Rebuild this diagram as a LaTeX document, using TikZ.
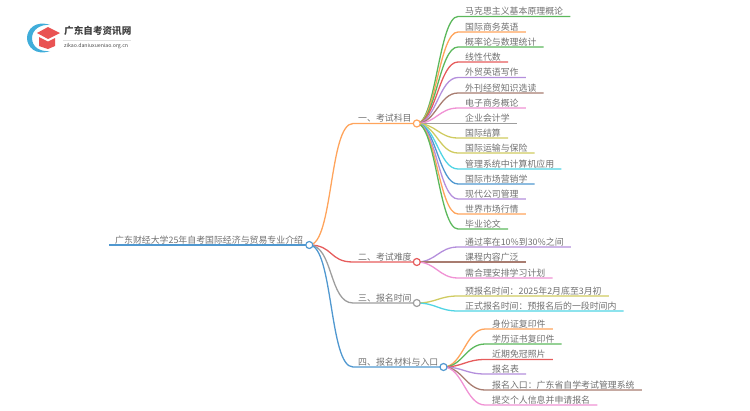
\documentclass[tikz,border=0pt]{standalone}
\usepackage{fontspec}
\setmainfont{Noto Sans CJK SC}
\usepackage{tikz}

\definecolor{cGreen}{HTML}{5CB85C}
\definecolor{cOrange}{HTML}{FFA45C}
\definecolor{cRed}{HTML}{E65C5C}
\definecolor{cPurple}{HTML}{B48FDC}
\definecolor{cBrown}{HTML}{A87C70}
\definecolor{cPink}{HTML}{F092D4}
\definecolor{cGray}{HTML}{9E9E9E}
\definecolor{cOlive}{HTML}{CFCB60}
\definecolor{cCyan}{HTML}{50D4E4}
\definecolor{cBlue}{HTML}{5098D0}
\definecolor{cText}{HTML}{707070}

\tikzset{
    topic/.style={anchor=south west, inner xsep=7pt, inner ysep=1pt, text=cText, font=\fontsize{8.9}{10}\selectfont},
    head/.style={topic, inner xsep=5pt},
    dot/.style={circle, draw, fill=white, line width=1.2pt, minimum size=7pt, inner sep=0pt},
    link/.style={line width=1.3pt, to path={.. controls +(#1,0) and +(-#1,0) .. (\tikztotarget)}},
    link/.default=19,
}

\begin{document}
\begin{tikzpicture}[x=1pt, y=-1pt]
    \useasboundingbox (0,0) rectangle (750,410);
    % logo
    \fill[cBlue!80!cyan] (50,25) .. controls (36,20) and (27,29) .. (27,38) .. controls (27,47) and (36,56) .. (50,51)
        .. controls (40,52) and (32,47) .. (32,38) .. controls (32,30) and (40,24) .. (50,25) -- cycle;
    \fill[cRed!90!red] (48,27) -- (60,33) -- (48,39) -- (37,33) -- cycle;
    \fill[cRed!90!red] (39,37) -- (48,41.5) -- (55,38) -- (55,46) -- (48,49) -- (39,46) -- cycle;
    \node[anchor=west, inner sep=0pt, text=black!75, font=\fontsize{9.6}{10}\bfseries\selectfont] (logotitle) at (64,31) {广东自考资讯网};
    \node[anchor=west, inner sep=0pt, text=black!70, font=\fontsize{5.2}{6}\selectfont] (logourl) at (64,46.5) {zikao.daniuxueniao.org.cn};
    \draw[black!12, line width=0.5pt] (63,40) -- (131,40);

    % main nodes
    \node[head, inner xsep=6pt] (root) at (109,245) {广东财经大学25年自考国际经济与贸易专业介绍};
    \node[head] (one) at (353,123.5) {一、考试科目};
    \node[head] (two) at (353,262) {二、考试难度};
    \node[head] (three) at (353,303) {三、报名时间};
    \node[head] (four) at (353,367) {四、报名材料与入口};

    % first group
    \node[topic] (a1) at (458,16.5) {马克思主义基本原理概论};
    \node[topic] (a2) at (458,32) {国际商务英语};
    \node[topic] (a3) at (458,47) {概率论与数理统计};
    \node[topic] (a4) at (458,62) {线性代数};
    \node[topic] (a5) at (458,77.5) {外贸英语写作};
    \node[topic] (a6) at (458,93) {外刊经贸知识选读};
    \node[topic] (a7) at (458,108) {电子商务概论};
    \node[topic] (a8) at (458,123.5) {企业会计学};
    \node[topic] (a9) at (458,138) {国际结算};
    \node[topic] (a10) at (458,153) {国际运输与保险};
    \node[topic] (a11) at (458,169) {管理系统中计算机应用};
    \node[topic] (a12) at (458,184) {国际市场营销学};
    \node[topic] (a13) at (458,199) {现代公司管理};
    \node[topic] (a14) at (458,214) {世界市场行情};
    \node[topic] (a15) at (458,229) {毕业论文};

    % second group
    \node[topic] (b1) at (458,247) {通过率在10\%到30\%之间};
    \node[topic] (b2) at (458,262) {课程内容广泛};
    \node[topic] (b3) at (458,278) {需合理安排学习计划};

    % third group
    \node[topic] (c1) at (458,296) {预报名时间：2025年2月底至3月初};
    \node[topic] (c2) at (458,311) {正式报名时间：预报名后的一段时间内};

    % fourth group
    \node[topic] (d1) at (485,329) {身份证复印件};
    \node[topic] (d2) at (485,344) {学历证书复印件};
    \node[topic] (d3) at (485,359.5) {近期免冠照片};
    \node[topic] (d4) at (485,374) {报名表};
    \node[topic] (d5) at (485,390) {报名入口：广东省自学考试管理系统};
    \node[topic] (d6) at (485,405) {提交个人信息并申请报名};

    % connectors
    \draw[cBlue, line width=1.5pt] (root.south west) -- (root.south east);
    \draw[link=24, cOrange] (root.south east) to (one.south west) -- (one.south east);
    \draw[link=24, cRed] (root.south east) to (two.south west) -- (two.south east);
    \draw[link=24, cGray] (root.south east) to (three.south west) -- (three.south east);
    \draw[link=24, cBlue] (root.south east) to (four.south west) -- (four.south east);

    \draw[link, cGreen] (one.south east) to (a1.south west) -- (a1.south east);
    \draw[link, cOrange] (one.south east) to (a2.south west) -- (a2.south east);
    \draw[link, cGreen] (one.south east) to (a3.south west) -- (a3.south east);
    \draw[link, cRed] (one.south east) to (a4.south west) -- (a4.south east);
    \draw[link, cPurple] (one.south east) to (a5.south west) -- (a5.south east);
    \draw[link, cBrown] (one.south east) to (a6.south west) -- (a6.south east);
    \draw[link, cPink] (one.south east) to (a7.south west) -- (a7.south east);
    \draw[link, cGray] (one.south east) to (a8.south west) -- (a8.south east);
    \draw[link, cOlive] (one.south east) to (a9.south west) -- (a9.south east);
    \draw[link, cOlive] (one.south east) to (a10.south west) -- (a10.south east);
    \draw[link, cCyan] (one.south east) to (a11.south west) -- (a11.south east);
    \draw[link, cBlue] (one.south east) to (a12.south west) -- (a12.south east);
    \draw[link, cPurple] (one.south east) to (a13.south west) -- (a13.south east);
    \draw[link, cOrange] (one.south east) to (a14.south west) -- (a14.south east);
    \draw[link, cGreen] (one.south east) to (a15.south west) -- (a15.south east);

    \draw[link, cPurple] (two.south east) to (b1.south west) -- (b1.south east);
    \draw[link, cBrown] (two.south east) to (b2.south west) -- (b2.south east);
    \draw[link, cPink] (two.south east) to (b3.south west) -- (b3.south east);

    \draw[link, cOlive] (three.south east) to (c1.south west) -- (c1.south east);
    \draw[link, cCyan] (three.south east) to (c2.south west) -- (c2.south east);

    \draw[link, cOrange] (four.south east) to (d1.south west) -- (d1.south east);
    \draw[link, cGreen] (four.south east) to (d2.south west) -- (d2.south east);
    \draw[link, cRed] (four.south east) to (d3.south west) -- (d3.south east);
    \draw[link, cPurple] (four.south east) to (d4.south west) -- (d4.south east);
    \draw[link, cBrown] (four.south east) to (d5.south west) -- (d5.south east);
    \draw[link, cPink] (four.south east) to (d6.south west) -- (d6.south east);

    % dots on the ends
    \node[dot, draw=cBlue] (rootdot) at (root.south east) {};
    \node[dot, draw=cOrange] (onedot) at (one.south east) {};
    \node[dot, draw=cRed] (twodot) at (two.south east) {};
    \node[dot, draw=cGray] (threedot) at (three.south east) {};
    \node[dot, draw=cBlue] (fourdot) at (four.south east) {};
\end{tikzpicture}
\end{document}
